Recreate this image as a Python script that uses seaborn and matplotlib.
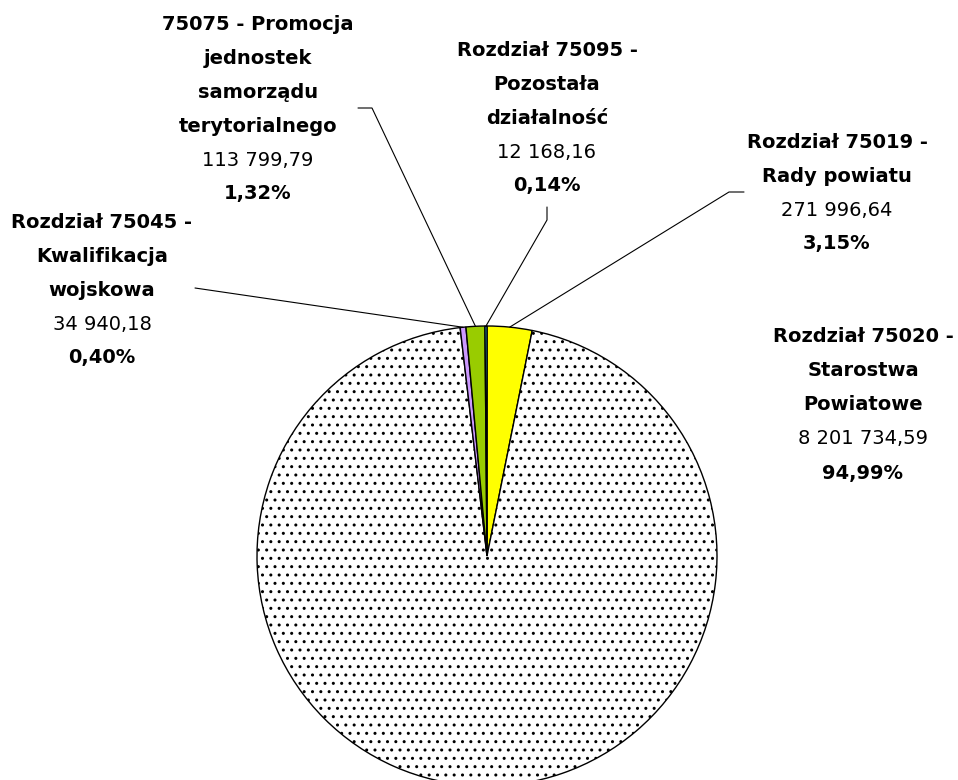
import numpy as np
import matplotlib
matplotlib.use("Agg")
import matplotlib.pyplot as plt
import seaborn as sns

# slices in drawing order (clockwise from 12 o'clock)
names = [
    ["Rozdział 75019 -", "Rady powiatu"],
    ["Rozdział 75020 -", "Starostwa", "Powiatowe"],
    ["Rozdział 75045 -", "Kwalifikacja", "wojskowa"],
    ["75075 - Promocja", "jednostek", "samorządu", "terytorialnego"],
    ["Rozdział 75095 -", "Pozostała", "działalność"],
]
values = [271996.64, 8201734.59, 34940.18, 113799.79, 12168.16]
colors = ["#FFFF00", "#FFFFFF", "#CC99FF", "#99CC00", "#33CCFF"]
hatches = [None, "..", None, None, None]

# label layout in pixels (centre x, centre y of first line)
label_pos = [(837, 142), (863, 337), (102, 222), (258, 24), (547, 50)]
# leader line start points (pixels), None = no leader
leader_pts = [
    [(744, 192), (729, 192)],
    None,
    [(195, 288)],
    [(358, 108), (372, 108)],
    [(547, 207), (547, 220)],
]

W, H = 958, 780
CX, CY, R = 487, 556, 230
LINE_STEP = 34


def fmt_num(v):
    s = f"{v:,.2f}"
    return s.replace(",", " ").replace(".", ",")


def main():
    sns.set_style("white")
    plt.rcParams["font.family"] = ["DejaVu Sans"]

    fig = plt.figure(figsize=(W / 100, H / 100), dpi=100)
    ax = fig.add_axes([0, 0, 1, 1])

    wedges, _ = ax.pie(
        values,
        colors=colors,
        startangle=90,
        counterclock=False,
        center=(CX, H - CY),
        radius=R,
        wedgeprops=dict(edgecolor="black", linewidth=1.0),
        frame=True,
    )
    for w, h in zip(wedges, hatches):
        if h:
            w.set_hatch(h)
    ax.set_xlim(0, W)
    ax.set_ylim(0, H)
    ax.axis("off")

    total = sum(values)
    for i, (lines, val) in enumerate(zip(names, values)):
        pct = f"{val / total * 100:.2f}%".replace(".", ",")
        rows = [(t, "bold") for t in lines] + [(fmt_num(val), "normal"), (pct, "bold")]
        x0, y0 = label_pos[i]
        for k, (txt, wt) in enumerate(rows):
            ax.text(x0, H - (y0 + k * LINE_STEP), txt, ha="center", va="center",
                    fontsize=14, fontweight=wt, color="black")

        pts = leader_pts[i]
        if pts:
            w = wedges[i]
            mid = np.deg2rad((w.theta1 + w.theta2) / 2)
            end = (CX + R * np.cos(mid), (H - CY) + R * np.sin(mid))
            xs = [p[0] for p in pts] + [end[0]]
            ys = [H - p[1] for p in pts] + [end[1]]
            ax.plot(xs, ys, color="black", lw=0.8)

    fig.savefig("out.png", dpi=100)


if __name__ == "__main__":
    main()
